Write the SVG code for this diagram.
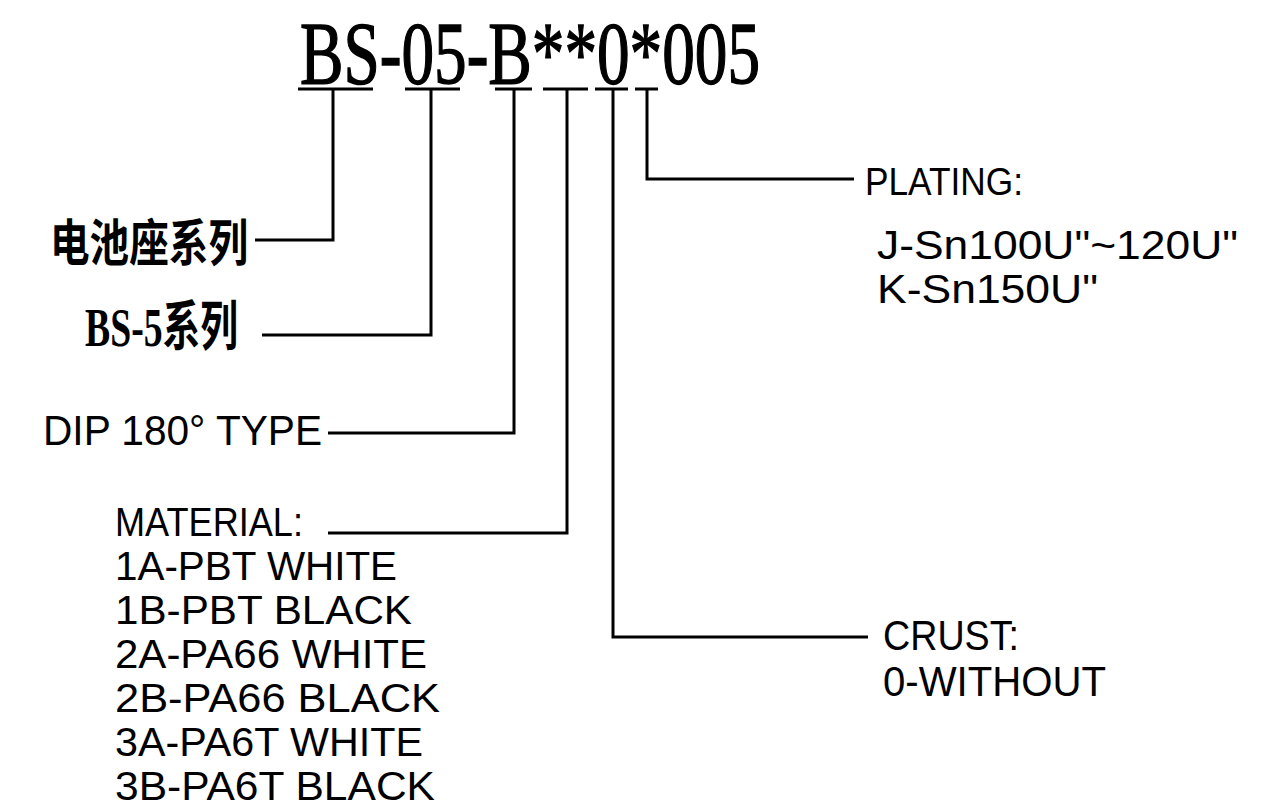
<svg xmlns="http://www.w3.org/2000/svg" width="1283" height="809" viewBox="0 0 1283 809">
<style>
.bg{fill:#fff}
.ln{fill:none;stroke:#000;stroke-width:3;stroke-linejoin:miter;stroke-linecap:butt}
.t{font-family:"Liberation Sans","Noto Sans",sans-serif;fill:#000}
.s{font-family:"Liberation Serif","Noto Sans CJK SC",serif;fill:#000;font-weight:bold}
.ti{font-family:"Liberation Serif",serif;fill:#000;stroke:#000;stroke-width:1.4}
.c{font-family:"Noto Sans CJK SC","Noto Sans CJK JP",sans-serif;font-weight:bold;fill:#000}
</style>
<rect class="bg" x="0" y="0" width="1283" height="809"/>
<g id="title">
<text class="ti" x="300" y="83" font-size="88" textLength="460" lengthAdjust="spacingAndGlyphs">BS-05-B**0*005</text>
</g>
<g id="connectors">
<path class="ln" d="M298 89H373M333 89V240H255"/>
<path class="ln" d="M405 89H460M431 89V335H262"/>
<path class="ln" d="M495 89H532M514 89V433H328"/>
<path class="ln" d="M543 89H588M567 89V533H328"/>
<path class="ln" d="M595 89H628M613 89V637H868"/>
<path class="ln" d="M635 89H658M647 89V179H854"/>
</g>
<g id="series">
<text class="c" x="50" y="261" font-size="50" textLength="198" lengthAdjust="spacingAndGlyphs">电池座系列</text>
</g>
<g id="bs5">
<text class="s" x="85" y="346" font-size="54" textLength="153" lengthAdjust="spacingAndGlyphs">BS-5系列</text>
</g>
<g id="dip">
<text class="t" x="43" y="445" font-size="42" textLength="279" lengthAdjust="spacingAndGlyphs">DIP 180° TYPE</text>
</g>
<g id="material">
<text class="t" x="115" y="536" font-size="41" textLength="188" lengthAdjust="spacingAndGlyphs">MATERIAL:</text>
<text class="t" x="115" y="580" font-size="41" textLength="282" lengthAdjust="spacingAndGlyphs">1A-PBT WHITE</text>
<text class="t" x="115" y="624" font-size="41" textLength="297" lengthAdjust="spacingAndGlyphs">1B-PBT BLACK</text>
<text class="t" x="115" y="668" font-size="41" textLength="312" lengthAdjust="spacingAndGlyphs">2A-PA66 WHITE</text>
<text class="t" x="115" y="712" font-size="41" textLength="325" lengthAdjust="spacingAndGlyphs">2B-PA66 BLACK</text>
<text class="t" x="115" y="756" font-size="41" textLength="308" lengthAdjust="spacingAndGlyphs">3A-PA6T WHITE</text>
<text class="t" x="115" y="800" font-size="41" textLength="320" lengthAdjust="spacingAndGlyphs">3B-PA6T BLACK</text>
</g>
<g id="plating">
<text class="t" x="865" y="195" font-size="38" textLength="158" lengthAdjust="spacingAndGlyphs">PLATING:</text>
<text class="t" x="877" y="259" font-size="40" textLength="361" lengthAdjust="spacingAndGlyphs">J-Sn100U"~120U"</text>
<text class="t" x="877" y="303" font-size="40" textLength="221" lengthAdjust="spacingAndGlyphs">K-Sn150U"</text>
</g>
<g id="crust">
<text class="t" x="883" y="650" font-size="42" textLength="136" lengthAdjust="spacingAndGlyphs">CRUST:</text>
<text class="t" x="883" y="696" font-size="42" textLength="223" lengthAdjust="spacingAndGlyphs">0-WITHOUT</text>
</g>
</svg>
